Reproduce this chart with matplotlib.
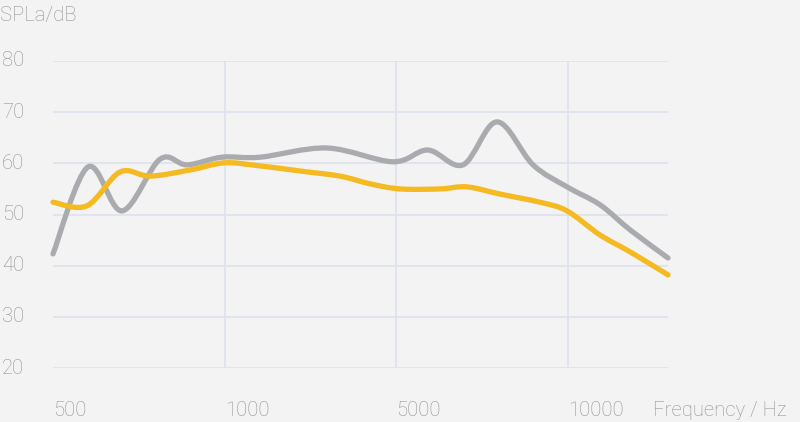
import numpy as np
import matplotlib
matplotlib.use("Agg")
import matplotlib.pyplot as plt
from matplotlib.path import Path
from matplotlib.patches import PathPatch

# ---- data (x in category-position units: 500 ->0, 1000 ->1, 5000 ->2, 10000 ->3) ----
tick_positions = [0, 1, 2, 3]
tick_labels = ["500", "1000", "5000", "10000"]
y_ticks = [20, 30, 40, 50, 60, 70, 80]

gray_x = [0.0, 0.204, 0.402, 0.623, 0.780, 0.984, 1.206, 1.596, 1.980, 2.184,
          2.388, 2.586, 2.796, 2.994, 3.186, 3.361, 3.582]
gray_y = [42.3, 59.3, 50.7, 60.8, 59.7, 61.2, 61.2, 63.0, 60.3, 62.6,
          59.7, 68.1, 59.7, 55.4, 51.9, 47.0, 41.5]

yellow_x = [0.0, 0.198, 0.390, 0.565, 0.798, 1.0, 1.206, 1.439, 1.672, 1.846,
            2.021, 2.254, 2.411, 2.603, 2.836, 2.994, 3.186, 3.361, 3.582]
yellow_y = [52.4, 51.7, 58.3, 57.5, 58.7, 60.1, 59.5, 58.5, 57.5, 56.0,
            55.0, 55.0, 55.4, 54.0, 52.4, 50.7, 46.0, 42.7, 38.2]

BG = "#f3f3f3"
GRID = "#dde3ec"
TXT = "#8f9296"
GRAY = "#a9abae"
YELLOW = "#f5b921"

plt.rcParams['font.family'] = ['Roboto', 'DejaVu Sans']
FS = 14.6
FW = 'light'

fig = plt.figure(figsize=(8, 4.22), dpi=100, facecolor=BG)
W, H = 800, 422
ax = fig.add_axes([53 / W, (H - 368) / H, (668 - 53) / W, (368 - 61) / H])
ax.set_facecolor(BG)
ax.set_xlim(0, 3.582)
ax.set_ylim(20, 80)
for s in ax.spines.values():
    s.set_visible(False)
ax.set_xticks([])
ax.set_yticks([])

for yv in y_ticks:
    ax.axhline(yv, color=GRID, lw=1.2, zorder=1)
for xv in tick_positions[1:]:
    ax.axvline(xv, color=GRID, lw=1.2, zorder=1)


def smooth_path(xs, ys, t=0.5):
    xs = np.asarray(xs, float)
    ys = np.asarray(ys, float)
    pts = np.column_stack([xs, ys])
    n = len(pts)
    verts = [pts[0]]
    codes = [Path.MOVETO]
    for i in range(n - 1):
        p0 = pts[i - 1] if i > 0 else pts[i]
        p1 = pts[i]
        p2 = pts[i + 1]
        p3 = pts[i + 2] if i + 2 < n else pts[i + 1]
        c1 = p1 + (p2 - p0) * t / 3
        c2 = p2 - (p3 - p1) * t / 3
        verts += [c1, c2, p2]
        codes += [Path.CURVE4] * 3
    return Path(verts, codes)


for xs, ys, col in [(gray_x, gray_y, GRAY), (yellow_x, yellow_y, YELLOW)]:
    patch = PathPatch(smooth_path(xs, ys, 0.5), facecolor="none", edgecolor=col,
                      lw=3.8, capstyle="round", joinstyle="round", zorder=3,
                      clip_on=False)
    ax.add_patch(patch)

# y tick labels
for yv in y_ticks:
    yp = 61 + (80 - yv) * (368 - 61) / 60
    fig.text(2 / W, 1 - yp / H, str(yv), ha="left", va="center", fontsize=FS,
             fontweight=FW, color=TXT)

# x tick labels (left aligned at tick)
for xv, lab in zip(tick_positions, tick_labels):
    xp = 53 + xv * 171.7
    fig.text(xp / W, 1 - 410 / H, lab, ha="left", va="center", fontsize=FS,
             fontweight=FW, color=TXT)

fig.text(653 / W, 1 - 410 / H, "Frequency / Hz", ha="left", va="center",
         fontsize=FS, fontweight=FW, color=TXT)
fig.text(0 / W, 1 - 16 / H, "SPLa/dB", ha="left", va="center", fontsize=FS,
         fontweight=FW, color=TXT)

fig.savefig("out.png", dpi=100, facecolor=BG)
